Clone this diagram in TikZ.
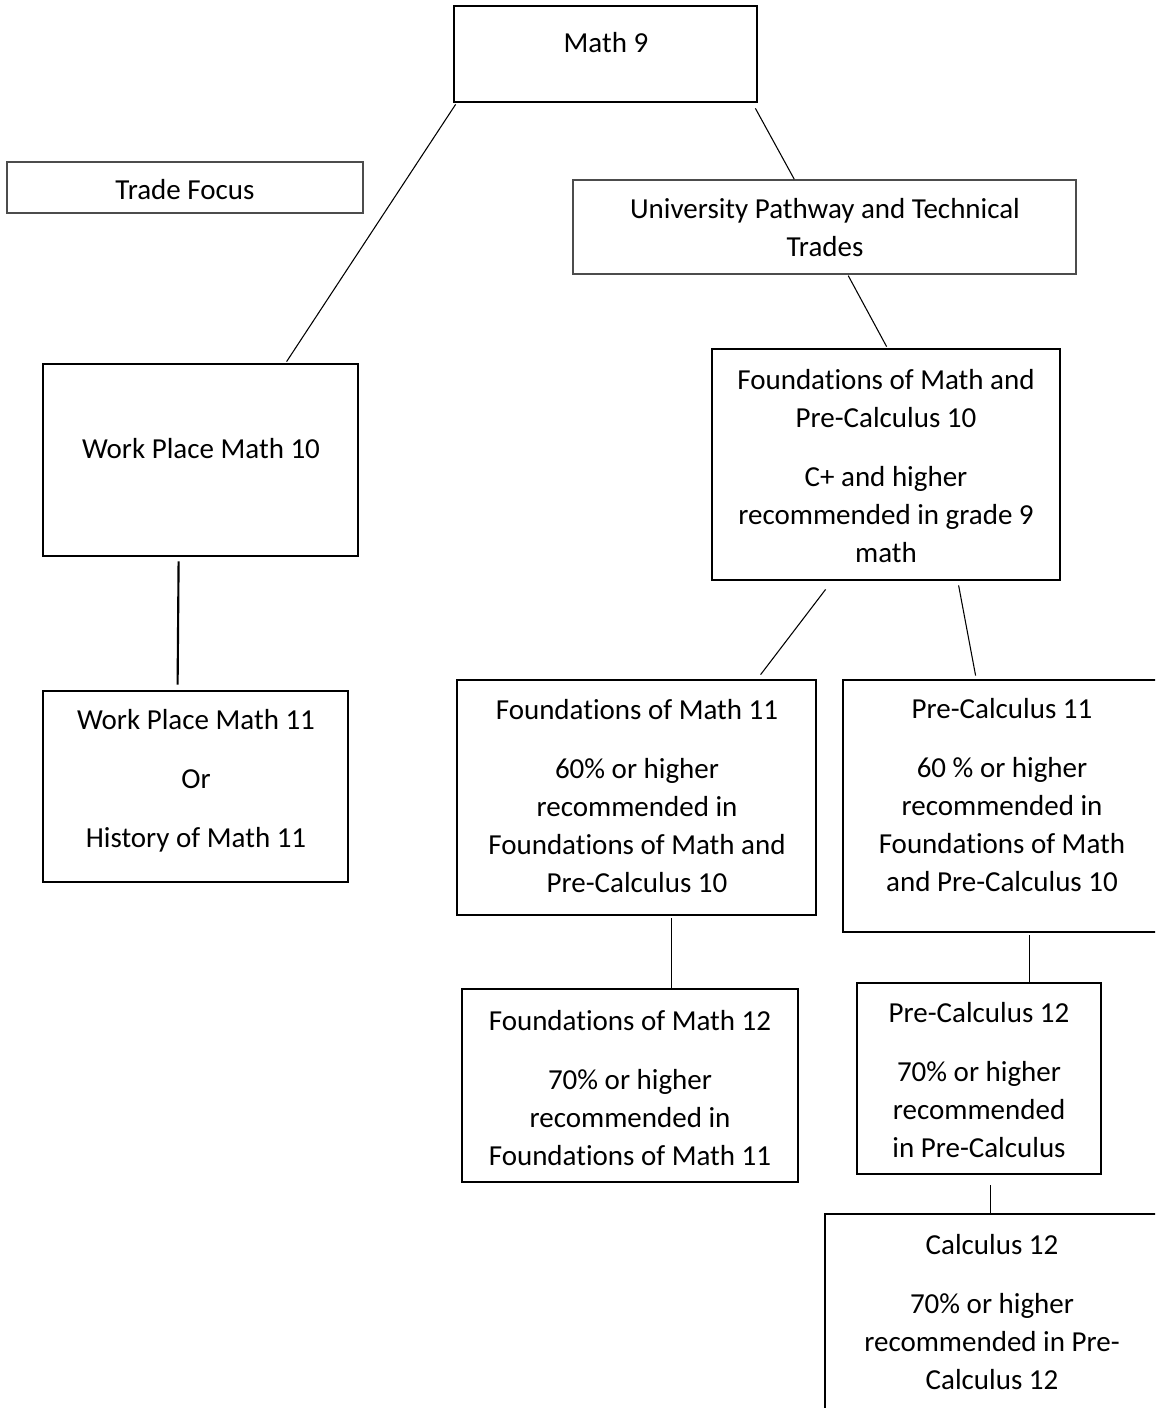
\documentclass[tikz,border=0pt]{standalone}
\usepackage{fontspec}
\setmainfont{Carlito}[Ligatures=NoCommon]
\usetikzlibrary{calc,fit}

\newcommand{\boxlines}[1]{\begin{tabular}[t]{@{}c@{}}#1\end{tabular}}

\tikzset{
  thickbox/.style={draw, line width=2.1pt, inner sep=0pt},
  thinbox/.style={draw=black!70, line width=1.1pt, inner sep=0pt},
  boxtext/.style={anchor=base, inner sep=0pt,
    font=\fontsize{21.75pt}{28.5pt}\selectfont},
  link/.style={line width=0.8pt},
  thicklink/.style={line width=1.6pt}
}

\begin{document}
\begin{tikzpicture}[x=0.75pt, y=-0.75pt]
        \useasboundingbox (0,0) rectangle (1155,1408);
        \clip (0,0) rectangle (1155,1408);

        % boxes
        \node [thickbox, fit={(454,6) (757,102)}] (math9) {};
        \node [thinbox, fit={(7,162) (363,213)}] (trade) {};
        \node [thinbox, fit={(573,180) (1076,274)}] (univ) {};
        \node [thickbox, fit={(43,364) (358,556)}] (wpm10) {};
        \node [thickbox, fit={(712,349) (1060,580)}] (found10) {};
        \node [thickbox, fit={(43,691) (348,882)}] (wpm11) {};
        \node [thickbox, fit={(457,680) (816,915)}] (found11) {};
        \node [thickbox, fit={(843,680) (1165,932)}] (precalc11) {};
        \node [thickbox, fit={(462,989) (798,1182)}] (found12) {};
        \node [thickbox, fit={(857,983) (1101,1174)}] (precalc12) {};
        \node [thickbox, fit={(825,1214) (1165,1425)}] (calc12) {};

        % texts
        \node [boxtext] (math9t) at (606,53) {\boxlines{Math 9}};
        \node [boxtext] (tradet) at (185,200) {\boxlines{Trade Focus}};
        \node [boxtext] (univt) at (825,219)
        {\boxlines{University Pathway and Technical\\ Trades}};
        \node [boxtext] (wpm10t) at (201,458) {\boxlines{Work Place Math 10}};
        \node [boxtext] (found10t) at (886,389)
        {\boxlines{Foundations of Math and\\ Pre-Calculus 10\\[16pt]
            C+ and higher\\ recommended in grade 9\\ math}};
        \node [boxtext] (wpm11t) at (196,729)
        {\boxlines{Work Place Math 11\\[16pt] Or\\[16pt] History of Math 11}};
        \node [boxtext] (found11t) at (637,719)
        {\boxlines{Foundations of Math 11\\[16pt] 60\% or higher\\
            recommended in\\ Foundations of Math and\\ Pre-Calculus 10}};
        \node [boxtext] (precalc11t) at (1002,718)
        {\boxlines{Pre-Calculus 11\\[16pt] 60 \% or higher\\
            recommended in\\ Foundations of Math\\ and Pre-Calculus 10}};
        \node [boxtext] (found12t) at (630,1030)
        {\boxlines{Foundations of Math 12\\[16pt] 70\% or higher\\
            recommended in\\ Foundations of Math 11}};
        \node [boxtext] (precalc12t) at (979,1022)
        {\boxlines{Pre-Calculus 12\\[16pt] 70\% or higher\\
            recommended\\ in Pre-Calculus}};
        \node [boxtext] (calc12t) at (992,1254)
        {\boxlines{Calculus 12\\[16pt] 70\% or higher\\
            recommended in Pre-\\ Calculus 12}};

        % connectors
        \draw [link] ($(math9.south west)+(3,1)$) -- ($(wpm10.north west)+(245,-1)$);
        \draw [link] ($(math9.south east)+(-3,5)$) -- ($(univ.north west)+(222,0)$);
        \draw [link] ($(univ.south west)+(276,1)$) -- ($(found10.north west)+(176,-1)$);
        \draw [thicklink] ($(wpm10.south west)+(137,4)$) -- ($(wpm11.north west)+(136,-5)$);
        \draw [link] ($(found10.south west)+(115,8)$) -- ($(found11.north west)+(305,-4)$);
        \draw [link] ($(found10.south west)+(248,4)$) -- ($(precalc11.north west)+(134,-3)$);
        \draw [link] ($(found11.south west)+(216,2)$) -- ($(found12.north west)+(211,0)$);
        \draw [link] ($(precalc11.south west)+(188,2)$) -- ($(precalc12.north west)+(174,0)$);
        \draw [link] ($(precalc12.south west)+(135,10)$) -- ($(calc12.north west)+(167,0)$);
      \end{tikzpicture}
\end{document}
